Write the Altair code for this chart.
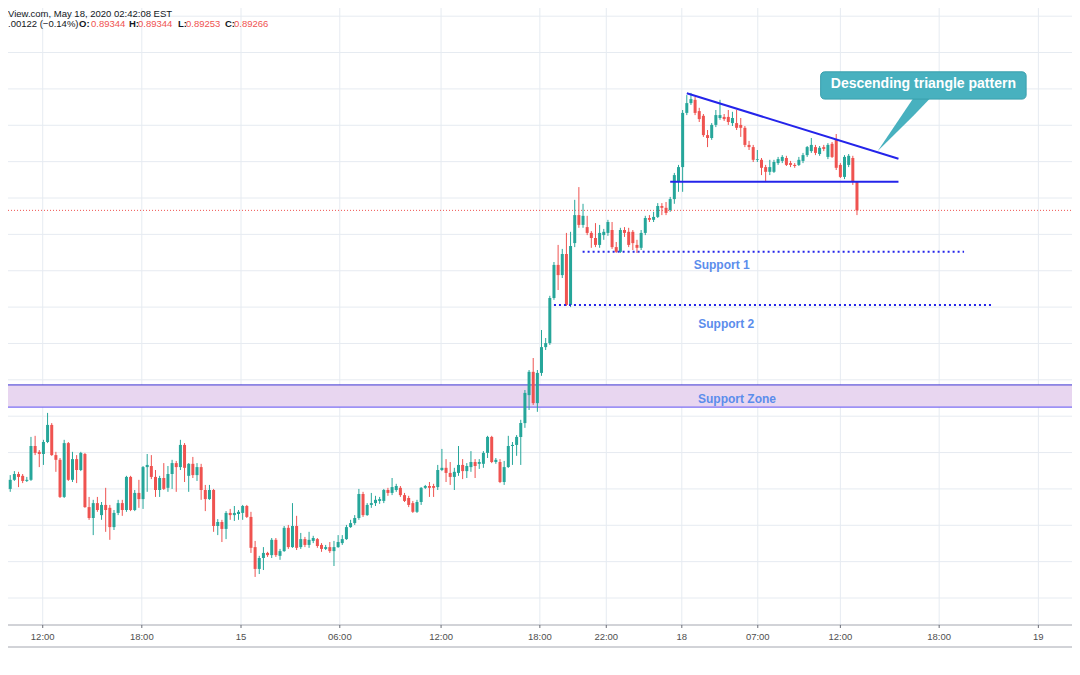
import altair as alt
import pandas as pd

# ---------------- data (15-minute candles) ----------------
OPEN = [0.88492,0.88500,0.88525,0.88541,0.88536,0.88522,0.88525,0.88618,0.88602,0.88596,
        0.88629,0.88676,0.88593,0.88580,0.88478,0.88626,0.88525,0.88582,0.88552,0.88596,
        0.88450,0.88420,0.88461,0.88428,0.88456,0.88448,0.88395,0.88434,0.88461,0.88442,
        0.88533,0.88442,0.88489,0.88472,0.88560,0.88563,0.88533,0.88497,0.88530,0.88503,
        0.88541,0.88571,0.88560,0.88621,0.88536,0.88569,0.88538,0.88560,0.88497,0.88472,
        0.88497,0.88398,0.88409,0.88390,0.88434,0.88428,0.88431,0.88434,0.88453,0.88423,
        0.88340,0.88280,0.88310,0.88324,0.88318,0.88360,0.88316,0.88329,0.88393,0.88340,
        0.88398,0.88340,0.88362,0.88346,0.88357,0.88362,0.88346,0.88335,0.88340,0.88329,
        0.88340,0.88351,0.88362,0.88395,0.88406,0.88420,0.88486,0.88428,0.88456,0.88461,
        0.88467,0.88467,0.88497,0.88489,0.88497,0.88503,0.88483,0.88475,0.88461,0.88437,
        0.88464,0.88503,0.88508,0.88508,0.88505,0.88552,0.88558,0.88544,0.88533,0.88544,
        0.88566,0.88549,0.88560,0.88574,0.88569,0.88569,0.88599,0.88643,0.88574,0.88574,
        0.88519,0.88560,0.88618,0.88621,0.88643,0.88681,0.88758,0.88822,0.88736,0.88819,
        0.88890,0.88901,0.89025,0.89116,0.89088,0.89146,0.89006,0.89176,0.89253,0.89226,
        0.89220,0.89204,0.89190,0.89171,0.89198,0.89204,0.89212,0.89165,0.89152,0.89212,
        0.89207,0.89207,0.89171,0.89163,0.89204,0.89245,0.89240,0.89248,0.89278,0.89273,
        0.89267,0.89297,0.89344,0.89385,0.89534,0.89561,0.89570,0.89539,0.89526,0.89473,
        0.89465,0.89501,0.89520,0.89523,0.89523,0.89506,0.89506,0.89501,0.89493,0.89446,
        0.89440,0.89405,0.89405,0.89385,0.89372,0.89372,0.89396,0.89402,0.89410,0.89396,
        0.89391,0.89391,0.89402,0.89418,0.89429,0.89440,0.89421,0.89440,0.89413,0.89449,
        0.89460,0.89391,0.89358,0.89391,0.89410,0.89344]
HIGH = [0.88514,0.88538,0.88549,0.88547,0.88541,0.88533,0.88643,0.88646,0.88607,0.88635,
        0.88709,0.88681,0.88602,0.88585,0.88635,0.88629,0.88602,0.88593,0.88602,0.88599,
        0.88478,0.88470,0.88478,0.88464,0.88503,0.88456,0.88442,0.88470,0.88470,0.88536,
        0.88536,0.88497,0.88525,0.88563,0.88596,0.88593,0.88552,0.88536,0.88571,0.88563,
        0.88580,0.88577,0.88635,0.88626,0.88571,0.88588,0.88571,0.88569,0.88511,0.88511,
        0.88500,0.88417,0.88415,0.88439,0.88445,0.88453,0.88442,0.88456,0.88456,0.88437,
        0.88357,0.88316,0.88340,0.88327,0.88365,0.88365,0.88335,0.88398,0.88401,0.88461,
        0.88426,0.88379,0.88368,0.88382,0.88371,0.88365,0.88351,0.88346,0.88354,0.88357,
        0.88373,0.88373,0.88401,0.88415,0.88428,0.88500,0.88492,0.88461,0.88489,0.88481,
        0.88478,0.88500,0.88503,0.88530,0.88514,0.88508,0.88489,0.88481,0.88467,0.88470,
        0.88505,0.88511,0.88519,0.88514,0.88566,0.88610,0.88582,0.88574,0.88558,0.88618,
        0.88582,0.88571,0.88604,0.88582,0.88582,0.88604,0.88646,0.88646,0.88585,0.88582,
        0.88577,0.88646,0.88629,0.88648,0.88690,0.88772,0.88827,0.88860,0.88827,0.88937,
        0.88915,0.89031,0.89124,0.89171,0.89160,0.89204,0.89207,0.89295,0.89330,0.89284,
        0.89251,0.89209,0.89231,0.89226,0.89215,0.89240,0.89234,0.89179,0.89218,0.89220,
        0.89218,0.89212,0.89185,0.89212,0.89251,0.89253,0.89262,0.89286,0.89286,0.89289,
        0.89303,0.89369,0.89391,0.89542,0.89583,0.89589,0.89578,0.89548,0.89531,0.89487,
        0.89506,0.89542,0.89570,0.89531,0.89542,0.89537,0.89542,0.89520,0.89498,0.89457,
        0.89446,0.89432,0.89410,0.89391,0.89405,0.89405,0.89413,0.89418,0.89416,0.89402,
        0.89396,0.89413,0.89424,0.89443,0.89465,0.89446,0.89443,0.89446,0.89451,0.89454,
        0.89476,0.89396,0.89418,0.89421,0.89416,0.89344]
LOW = [0.88483,0.88492,0.88522,0.88505,0.88516,0.88519,0.88522,0.88593,0.88560,0.88566,
       0.88626,0.88591,0.88547,0.88475,0.88475,0.88522,0.88519,0.88516,0.88549,0.88448,
       0.88415,0.88373,0.88437,0.88415,0.88382,0.88360,0.88387,0.88428,0.88426,0.88437,
       0.88439,0.88439,0.88448,0.88445,0.88492,0.88527,0.88478,0.88478,0.88497,0.88492,
       0.88500,0.88492,0.88552,0.88519,0.88492,0.88530,0.88522,0.88470,0.88439,0.88470,
       0.88382,0.88373,0.88354,0.88362,0.88415,0.88412,0.88415,0.88415,0.88420,0.88324,
       0.88258,0.88266,0.88277,0.88313,0.88310,0.88313,0.88305,0.88327,0.88335,0.88338,
       0.88332,0.88335,0.88340,0.88338,0.88351,0.88338,0.88327,0.88332,0.88324,0.88288,
       0.88338,0.88346,0.88360,0.88393,0.88401,0.88415,0.88423,0.88426,0.88448,0.88453,
       0.88459,0.88461,0.88481,0.88483,0.88492,0.88478,0.88464,0.88450,0.88434,0.88434,
       0.88456,0.88500,0.88478,0.88478,0.88497,0.88549,0.88519,0.88511,0.88497,0.88536,
       0.88527,0.88530,0.88547,0.88530,0.88555,0.88558,0.88585,0.88571,0.88569,0.88516,
       0.88511,0.88558,0.88566,0.88591,0.88566,0.88668,0.88717,0.88731,0.88712,0.88811,
       0.88882,0.88896,0.89020,0.89047,0.89080,0.89003,0.89000,0.89165,0.89218,0.89218,
       0.89198,0.89163,0.89165,0.89163,0.89185,0.89196,0.89160,0.89149,0.89149,0.89193,
       0.89165,0.89157,0.89149,0.89157,0.89198,0.89234,0.89234,0.89245,0.89253,0.89253,
       0.89262,0.89284,0.89317,0.89317,0.89528,0.89556,0.89528,0.89509,0.89468,0.89440,
       0.89460,0.89495,0.89515,0.89512,0.89501,0.89498,0.89487,0.89468,0.89440,0.89432,
       0.89399,0.89399,0.89363,0.89344,0.89363,0.89369,0.89391,0.89396,0.89388,0.89385,
       0.89383,0.89388,0.89396,0.89413,0.89424,0.89418,0.89416,0.89429,0.89407,0.89410,
       0.89377,0.89355,0.89352,0.89385,0.89336,0.89253]
CLOSE = [0.88505,0.88525,0.88541,0.88533,0.88522,0.88525,0.88618,0.88599,0.88596,0.88629,
         0.88676,0.88593,0.88580,0.88478,0.88626,0.88525,0.88582,0.88552,0.88599,0.88450,
         0.88420,0.88461,0.88442,0.88456,0.88442,0.88395,0.88434,0.88461,0.88442,0.88533,
         0.88442,0.88489,0.88472,0.88560,0.88566,0.88533,0.88497,0.88530,0.88500,0.88541,
         0.88571,0.88560,0.88621,0.88558,0.88569,0.88538,0.88560,0.88497,0.88472,0.88497,
         0.88398,0.88409,0.88390,0.88434,0.88428,0.88434,0.88437,0.88453,0.88423,0.88338,
         0.88280,0.88310,0.88324,0.88318,0.88360,0.88318,0.88329,0.88393,0.88340,0.88398,
         0.88338,0.88362,0.88346,0.88360,0.88365,0.88343,0.88335,0.88340,0.88329,0.88340,
         0.88354,0.88362,0.88395,0.88406,0.88420,0.88486,0.88428,0.88456,0.88461,0.88470,
         0.88472,0.88497,0.88489,0.88505,0.88508,0.88483,0.88467,0.88456,0.88437,0.88464,
         0.88503,0.88508,0.88503,0.88503,0.88552,0.88558,0.88544,0.88533,0.88547,0.88566,
         0.88549,0.88563,0.88574,0.88563,0.88574,0.88599,0.88643,0.88574,0.88580,0.88519,
         0.88560,0.88618,0.88621,0.88643,0.88681,0.88764,0.88822,0.88736,0.88819,0.88890,
         0.88901,0.89025,0.89116,0.89088,0.89146,0.89006,0.89168,0.89253,0.89226,0.89251,
         0.89204,0.89190,0.89171,0.89204,0.89207,0.89234,0.89165,0.89152,0.89212,0.89204,
         0.89171,0.89176,0.89163,0.89204,0.89245,0.89240,0.89248,0.89278,0.89273,0.89259,
         0.89297,0.89363,0.89385,0.89534,0.89561,0.89572,0.89534,0.89517,0.89473,0.89465,
         0.89501,0.89528,0.89528,0.89517,0.89509,0.89520,0.89493,0.89493,0.89446,0.89440,
         0.89405,0.89407,0.89383,0.89372,0.89385,0.89399,0.89407,0.89413,0.89391,0.89391,
         0.89388,0.89405,0.89418,0.89440,0.89446,0.89424,0.89438,0.89435,0.89446,0.89413,
         0.89383,0.89358,0.89413,0.89416,0.89344,0.89266]

TICK_POS = [8.83, 32.7, 56.6, 80.4, 104.8, 128.6, 144.6, 162.8, 181.1, 201.0, 224.8, 248.7]
TICK_LABELS = ["12:00", "18:00", "15", "06:00", "12:00", "18:00", "22:00", "18",
               "07:00", "12:00", "18:00", "19"]
GRID_PRICES = [0.882, 0.883, 0.884, 0.885, 0.886, 0.887, 0.888, 0.889, 0.890,
               0.891, 0.892, 0.893, 0.894, 0.895, 0.896, 0.897, 0.898]

LAST_PRICE = 0.89266
ZONE = [0.88725, 0.88786]                       # support zone (low, high)
SUPPORTS = {"x": [138.9, 132.0], "x2": [230.8, 237.9], "y": [0.89152, 0.89006]}
TRIANGLE = {"x": [164.0, 160.0], "x2": [215.0, 215.0],
            "y": [0.89588, 0.89345], "y2": [0.89408, 0.89345]}
LABELS = {"text": ["Support 1", "Support 2", "Support Zone"],
          "x": [172.4, 173.5, 176.1], "y": [0.89115, 0.88954, 0.88746]}
CALLOUT_BOX = {"x": [196.25], "x2": [245.75], "y": [0.89647], "y2": [0.89572]}
CALLOUT_TIP = {"x": [210.0, 218.6, 222.7], "y": [0.89429, 0.89575, 0.89575],
               "y2": [0.89429, 0.89526, 0.89575]}
CALLOUT_TEXT = {"text": ["Descending triangle pattern"], "x": [221.0], "y": [0.89613]}

HEADER1 = "View.com, May 18, 2020 02:42:08 EST"
HEADER2_TEXT = [".00122 (\u22120.14%)", "O:", "0.89344", "H:", "0.89344", "L:", "0.89253",
                "C:", "0.89266"]
HEADER2_PX = [0, 71, 83, 121, 130, 170, 178, 217, 226]
HEADER2_KIND = ["plain", "key", "value", "key", "value", "key", "value", "key", "value"]

# ---------------- styling ----------------
W, H = 1064, 617
GREEN, RED = "#26a69a", "#ef5350"
GRID = "#e6ebf1"
BLUE = "#2424ea"
TXT_BLUE = "#5b8dec"
TEAL = "#48b1bf"
DARK = "#131722"
AXIS_LINE = "#a4a7b0"
FONT = "Liberation Sans"

X_DOMAIN = [1.67, 255.6]
Y_DOMAIN = [0.881258, 0.898225]
xs = alt.Scale(domain=X_DOMAIN, nice=False, zero=False)
ys = alt.Scale(domain=Y_DOMAIN, nice=False, zero=False)


def X(field):
    return alt.X(field, scale=xs, axis=None)


def Y(field):
    return alt.Y(field, scale=ys, axis=None)


df = pd.DataFrame({"bar": list(range(len(OPEN))), "open": OPEN, "high": HIGH,
                   "low": LOW, "close": CLOSE})
df["dir"] = ["up" if c >= o else "down" for o, c in zip(df["open"], df["close"])]
color = alt.Color("dir:N", scale=alt.Scale(domain=["up", "down"], range=[GREEN, RED]),
                  legend=None)

# grid + time axis drawn from the tick lists
ticks_df = pd.DataFrame({"pos": TICK_POS, "label": TICK_LABELS})
grid_df = pd.DataFrame({"p": GRID_PRICES})
vgrid = alt.Chart(ticks_df).mark_rule(color=GRID, strokeWidth=1).encode(x=X("pos:Q"))
hgrid = alt.Chart(grid_df).mark_rule(color=GRID, strokeWidth=1).encode(y=Y("p:Q"))
tick_marks = alt.Chart(ticks_df).mark_rule(color="#6b6e78").encode(
    x=X("pos:Q"), y=alt.value(H), y2=alt.value(H + 3))
tick_text = alt.Chart(ticks_df).mark_text(
    font=FONT, fontSize=9.5, color="#4f4f4f", baseline="middle").encode(
    x=X("pos:Q"), y=alt.value(H + 12), text="label:N")
one = pd.DataFrame({"a": [0]})
axis_top = alt.Chart(one).mark_rule(color=AXIS_LINE).encode(
    y=alt.value(H), x=alt.value(0), x2=alt.value(W))
axis_bottom = alt.Chart(one).mark_rule(color=AXIS_LINE).encode(
    y=alt.value(H + 22), x=alt.value(0), x2=alt.value(W))

# candles
wicks = alt.Chart(df).mark_rule(strokeWidth=1, clip=True).encode(
    x=X("bar:Q"), y=Y("low:Q"), y2="high:Q", color=color)
bodies = alt.Chart(df).mark_bar(size=3, clip=True).encode(
    x=X("bar:Q"), y=Y("open:Q"), y2="close:Q", color=color)

# drawings
zone_df = pd.DataFrame({"lo": [ZONE[0]], "hi": [ZONE[1]]})
zone = alt.Chart(zone_df).mark_rect(color="#e8d6f0").encode(
    y=Y("lo:Q"), y2="hi:Q", x=alt.value(0), x2=alt.value(W))
zone_top = alt.Chart(zone_df).mark_rule(color="#3b33d2", strokeWidth=1).encode(
    y=Y("hi:Q"), x=alt.value(0), x2=alt.value(W))
zone_bot = alt.Chart(zone_df).mark_rule(color="#7b6ef3", strokeWidth=1.2).encode(
    y=Y("lo:Q"), x=alt.value(0), x2=alt.value(W))

price_line = alt.Chart(pd.DataFrame({"p": [LAST_PRICE]})).mark_rule(
    color=RED, strokeWidth=1, strokeDash=[1, 2]).encode(
    y=Y("p:Q"), x=alt.value(0), x2=alt.value(W))

supports = alt.Chart(pd.DataFrame(SUPPORTS)).mark_rule(
    color=BLUE, strokeWidth=2, strokeDash=[2, 3]).encode(
    x=X("x:Q"), x2="x2:Q", y=Y("y:Q"))

triangle = alt.Chart(pd.DataFrame(TRIANGLE)).mark_rule(color=BLUE, strokeWidth=2).encode(
    x=X("x:Q"), x2="x2:Q", y=Y("y:Q"), y2="y2:Q")

labels = alt.Chart(pd.DataFrame(LABELS)).mark_text(
    font=FONT, fontSize=12, fontWeight="bold", color=TXT_BLUE).encode(
    x=X("x:Q"), y=Y("y:Q"), text="text:N")

callout_tip = alt.Chart(pd.DataFrame(CALLOUT_TIP)).mark_area(color=TEAL).encode(
    x=X("x:Q"), y=Y("y:Q"), y2="y2:Q")
callout_box = alt.Chart(pd.DataFrame(CALLOUT_BOX)).mark_rect(
    fill=TEAL, stroke="#3a9fad", strokeWidth=1, cornerRadius=4).encode(
    x=X("x:Q"), x2="x2:Q", y=Y("y:Q"), y2="y2:Q")
callout_text = alt.Chart(pd.DataFrame(CALLOUT_TEXT)).mark_text(
    font=FONT, fontSize=14, fontWeight="bold", color="white").encode(
    x=X("x:Q"), y=Y("y:Q"), text="text:N")

# header (legend line of the screenshot)
header_layers = [
    alt.Chart(one).mark_text(font=FONT, fontSize=9.5, align="left", baseline="middle",
                             color=DARK, text=HEADER1).encode(x=alt.value(0), y=alt.value(5.5))
]
for txt, px, kind in zip(HEADER2_TEXT, HEADER2_PX, HEADER2_KIND):
    header_layers.append(
        alt.Chart(one).mark_text(font=FONT, fontSize=9.5,
                                 align="left", baseline="middle",
                                 color=RED if kind == "value" else DARK, text=txt,
                                 fontWeight="bold" if kind == "key" else "normal")
        .encode(x=alt.value(px), y=alt.value(16)))

chart = alt.layer(
    vgrid, hgrid, zone, zone_top, zone_bot, price_line, wicks, bodies,
    supports, triangle, labels, callout_tip, callout_box, callout_text,
    axis_top, tick_marks, tick_text, axis_bottom, *header_layers,
).properties(
    width=W, height=H,
    background="white",
    autosize=alt.AutoSizeParams(type="none"),
    padding={"left": 0, "top": 0, "right": 0, "bottom": 40},
).configure_view(stroke=None)

chart.save("out.html", embed_options={"renderer": "svg", "actions": False})
